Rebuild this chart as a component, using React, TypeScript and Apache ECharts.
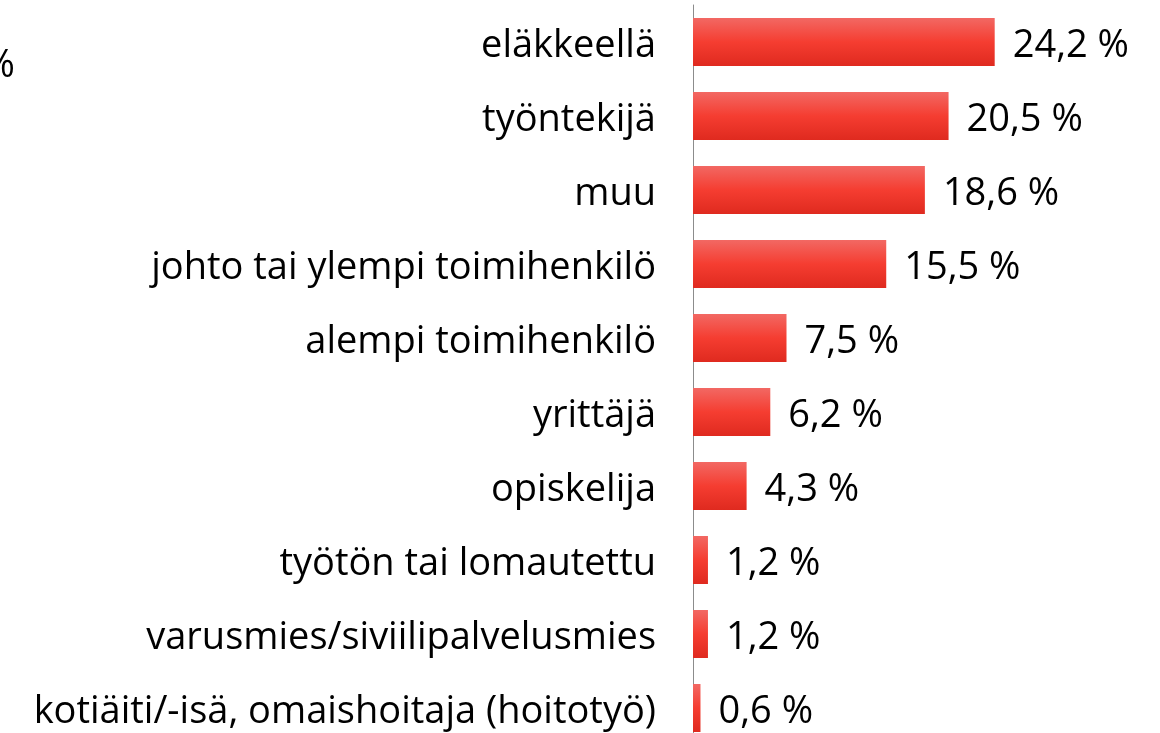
import React, { useEffect, useRef } from "react";
import * as echarts from "echarts";

const categories = [
  "eläkkeellä",
  "työntekijä",
  "muu",
  "johto tai ylempi toimihenkilö",
  "alempi toimihenkilö",
  "yrittäjä",
  "opiskelija",
  "työtön tai lomautettu",
  "varusmies/siviilipalvelusmies",
  "kotiäiti/-isä, omaishoitaja (hoitotyö)",
];
const values = [24.2, 20.5, 18.6, 15.5, 7.5, 6.2, 4.3, 1.2, 1.2, 0.6];

const FONT = "'Open Sans', sans-serif";

export default function App() {
  const ref = useRef<HTMLDivElement>(null);
  useEffect(() => {
    const chart = echarts.init(ref.current!, null, { renderer: "svg" });
    chart.setOption({
      animation: false,
      grid: { left: 693, width: 374, top: 5, height: 740, containLabel: false },
      xAxis: {
        type: "value",
        min: 0,
        max: 30,
        show: false,
      },
      yAxis: {
        type: "category",
        data: categories,
        inverse: true,
        axisLine: { show: true, lineStyle: { color: "#8c8c8c", width: 1 } },
        axisTick: { show: false },
        axisLabel: {
          fontFamily: FONT,
          fontSize: 38,
          color: "#000",
          margin: 37,
        },
      },
      series: [
        {
          type: "bar",
          data: values,
          barWidth: 48,
          itemStyle: {
            color: new echarts.graphic.LinearGradient(0, 0, 0, 1, [
              { offset: 0, color: "#f26863" },
              { offset: 0.5, color: "#f53d31" },
              { offset: 1, color: "#df2a1f" },
            ]),
          },
          label: {
            show: true,
            position: "right",
            distance: 18,
            fontFamily: FONT,
            fontSize: 38,
            color: "#000",
            formatter: (p: any) => p.value.toFixed(1).replace(".", ",") + " %",
          },
        },
      ],
      graphic: [
        {
          type: "text",
          x: 15,
          y: 62,
          style: {
            text: "%",
            fontFamily: FONT,
            fontSize: 38,
            fill: "#000",
            textAlign: "right",
            textVerticalAlign: "middle",
          },
        },
      ],
    });
    return () => chart.dispose();
  }, []);
  return (
    <div style={{ position: "fixed", left: 0, top: 0, width: 1160, height: 733, overflow: "hidden" }}>
      <div ref={ref} style={{ width: 1160, height: 760 }} />
    </div>
  );
}
